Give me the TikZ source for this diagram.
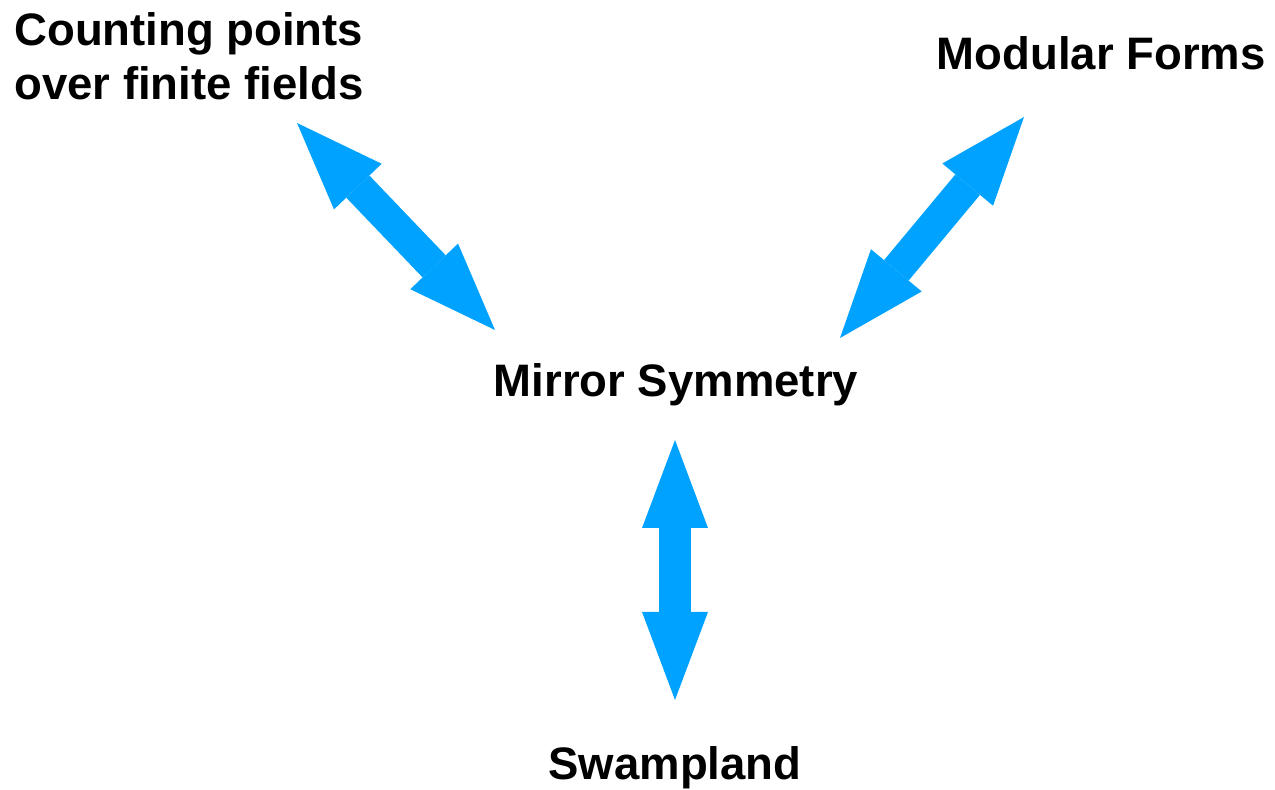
\documentclass[tikz,border=0pt]{standalone}
\usepackage{fontspec}
\setmainfont{Liberation Sans}
\usetikzlibrary{arrows.meta}

\definecolor{linkblue}{HTML}{00A2FF}

\begin{document}
\begin{tikzpicture}[
        topic/.style={font=\bfseries\fontsize{25.9pt}{30.7pt}\selectfont, inner sep=0pt},
        link/.style={linkblue, line width=0.64cm,
            {Triangle[length=1.76cm, width=1.32cm, line width=0pt]}-{Triangle[length=1.76cm, width=1.32cm, line width=0pt]}}
    ]
        \useasboundingbox (0,0) rectangle (25.5,15.8);

        % Temas
        \node[topic, anchor=base] (mirror) at (13.52,7.86) {Mirror Symmetry};
        \node[topic, anchor=north west, align=left] (count) at (0.28,15.56) {Counting points\\over finite fields};
        \node[topic, anchor=base east] (modular) at (25.32,14.4) {Modular Forms};
        \node[topic, anchor=base] (swamp) at (13.5,0.2) {Swampland};

        % Extremos de las flechas
        \coordinate (c1) at (5.94,13.34);
        \coordinate (c2) at (9.9,9.2);
        \coordinate (m1) at (20.48,13.46);
        \coordinate (m2) at (16.8,9.04);
        \coordinate (s1) at (13.5,7.0);
        \coordinate (s2) at (13.5,1.8);

        % Flechas dobles
        \draw[link] (c1) -- (c2);
        \draw[link] (m1) -- (m2);
        \draw[link] (s1) -- (s2);
    \end{tikzpicture}
\end{document}
